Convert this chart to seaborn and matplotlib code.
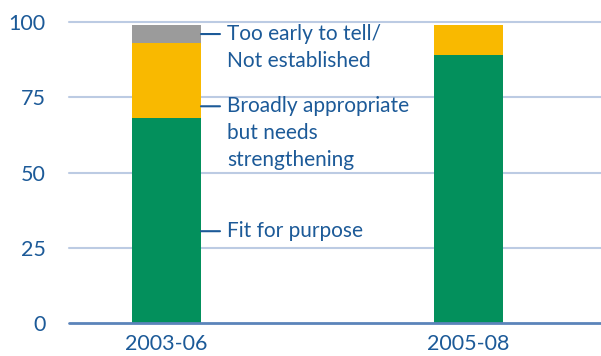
import matplotlib
matplotlib.use("Agg")
import matplotlib.pyplot as plt
import seaborn as sns
import pandas as pd

periods = ["2003-06", "2005-08"]
fit_for_purpose = [68, 89]
broadly_appropriate = [25, 10]
too_early = [6, 0]
tick_values = [0, 25, 50, 75, 100]
label_texts = ["Too early to tell/\nNot established",
               "Broadly appropriate\nbut needs\nstrengthening",
               "Fit for purpose"]
label_y = [96, 72, 30.5]

GREEN = "#03905C"
YELLOW = "#F9B900"
GRAY = "#9B9B9B"
BLUE = "#1C5A98"
GRID = "#BCCBE3"
ZERO = "#5B84BA"

sns.set_theme(style="white")
plt.rcParams["font.family"] = ["Lato", "DejaVu Sans"]

fig = plt.figure(figsize=(6.01, 3.56), dpi=100)
ax = fig.add_axes([69/601, 1-323/356, 1-69/601, (323-22)/356])

c1 = [a for a in fit_for_purpose]
c2 = [a + b for a, b in zip(fit_for_purpose, broadly_appropriate)]
c3 = [a + b + c for a, b, c in zip(fit_for_purpose, broadly_appropriate, too_early)]

width = 69/302
for vals, col in [(c3, GRAY), (c2, YELLOW), (c1, GREEN)]:
    df = pd.DataFrame({"period": periods, "value": vals})
    sns.barplot(data=df, x="period", y="value", color=col, width=width,
                saturation=1, ax=ax, zorder=3, linewidth=0, errorbar=None)

ax.set_xlim(-(166.5-69)/302, 1 + (601-468.5)/302)
ax.set_ylim(0, 100)
ax.set_yticks(tick_values)
ax.set_yticklabels([str(v) for v in tick_values])
for v in tick_values[1:]:
    ax.axhline(v, color=GRID, lw=1.5, zorder=1, clip_on=False)
ax.axhline(0, color=ZERO, lw=2, zorder=4, clip_on=False)

for s in ax.spines.values():
    s.set_visible(False)
ax.tick_params(axis="y", length=0, pad=17, labelsize=15.5, labelcolor=BLUE)
ax.tick_params(axis="x", length=0, pad=8, labelsize=15.5, labelcolor=BLUE)
ax.set_xlabel("")
ax.set_ylabel("")

xr = width/2
for txt, y in zip(label_texts, label_y):
    ax.annotate("", xy=(xr, y), xytext=(19, 0), xycoords="data",
                textcoords="offset pixels",
                arrowprops=dict(arrowstyle="-", color=BLUE, lw=1.5,
                                shrinkA=0, shrinkB=0))
    ax.annotate(txt, xy=(xr, y), xytext=(26, 10), xycoords="data",
                textcoords="offset pixels", va="top", ha="left",
                fontsize=15, color=BLUE, linespacing=1.42, zorder=5)

fig.savefig("out.png", dpi=100)
